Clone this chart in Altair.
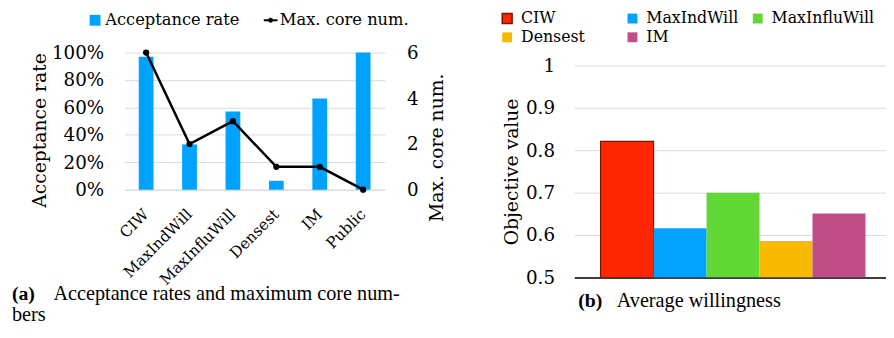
import altair as alt
import pandas as pd

# ---------------- data ----------------
methods_a = ["CIW", "MaxIndWill", "MaxInfluWill", "Densest", "IM", "Public"]
acceptance = [0.97, 0.33, 0.57, 0.065, 0.665, 1.0]
max_core = [6, 2, 3, 1, 1, 0]

methods_b = ["CIW", "MaxIndWill", "MaxInfluWill", "Densest", "IM"]
objective = [0.821, 0.616, 0.700, 0.586, 0.651]
colors_b = ["#FF2600", "#00A2FF", "#61D836", "#F8BA00", "#C04D87"]
strokes_b = ["#7A1500", "transparent", "transparent", "transparent", "transparent"]

rate_ticks = [0, 0.2, 0.4, 0.6, 0.8, 1.0]
core_ticks = [0, 2, 4, 6]
obj_ticks = [0.5, 0.6, 0.7, 0.8, 0.9, 1.0]

caption_a = ["(a)", "Acceptance rates and maximum core num-", "bers"]
caption_b = ["(b)", "Average willingness"]

SERIF = "DejaVu Serif"
CAP = "Liberation Serif"
GRID = "#D9D9D9"

df_a = pd.DataFrame({"method": methods_a, "rate": acceptance, "core": max_core})
df_a["s1"] = "Acceptance rate"
df_a["s2"] = "Max. core num."
df_b = pd.DataFrame({"method": methods_b, "value": objective})

# ---------------- left panel ----------------
x_a = alt.X(
    "method:N", sort=methods_a, title=None,
    scale=alt.Scale(paddingInner=0.66, paddingOuter=0.33),
    axis=alt.Axis(labelAngle=-45, labelAlign="right", labelBaseline="middle",
                  labelFont=SERIF, labelFontSize=15.5, labelColor="black",
                  ticks=False, tickSize=0, domain=True, domainColor=GRID, labelPadding=22,
                  grid=False),
)

bars_a = alt.Chart(df_a).mark_bar().encode(
    x=x_a,
    y=alt.Y("rate:Q", scale=alt.Scale(domain=[0, 1]),
            axis=alt.Axis(values=rate_ticks, format=".0%", title="Acceptance rate",
                          labelFont=SERIF, labelFontSize=18.5, labelColor="black",
                          titleFont=SERIF, titleFontSize=19, titleFontWeight="normal",
                          titleColor="black", titleAngle=270, titleX=-86, titleY=78.5,
                          titleAlign="center", titleBaseline="middle",
                          grid=True, gridColor=GRID, domain=False, ticks=False, tickSize=0,
                          labelPadding=21)),
    color=alt.Color("s1:N", scale=alt.Scale(domain=["Acceptance rate"], range=["#00A2FF"]),
                    legend=alt.Legend(orient="none", legendX=-38, legendY=-41, title=None,
                                      symbolType="square", symbolSize=121, symbolStrokeWidth=0,
                                      labelFont=SERIF, labelFontSize=16.5, labelColor="black",
                                      labelOffset=2)),
)

core_axis = alt.Axis(orient="right", values=core_ticks, title="Max. core num.",
                     labelFont=SERIF, labelFontSize=18.5, labelColor="black",
                     titleFont=SERIF, titleFontSize=19, titleFontWeight="normal",
                     titleColor="black", titleAngle=270, titleX=52, titleY=96,
                     titleAlign="center", titleBaseline="middle",
                     grid=False, domain=False, ticks=False, tickSize=0, labelPadding=22)

line_a = alt.Chart(df_a).mark_line(color="black", strokeWidth=2.5).encode(
    x=x_a,
    y=alt.Y("core:Q", scale=alt.Scale(domain=[0, 6]), axis=core_axis),
    stroke=alt.Stroke("s2:N", scale=alt.Scale(domain=["Max. core num."], range=["black"]),
                      legend=alt.Legend(orient="none", legendX=140, legendY=-41, title=None,
                                        symbolType="M-1,0H1M-0.22,0A0.22,0.22,0,1,0,0.22,0A0.22,0.22,0,1,0,-0.22,0Z",
                                        symbolSize=196, symbolStrokeWidth=2,
                                        symbolFillColor="black", symbolStrokeColor="black",
                                        labelFont=SERIF, labelFontSize=16.5, labelColor="black",
                                        labelOffset=1)),
)
pts_a = alt.Chart(df_a).mark_circle(color="black", size=40, opacity=1).encode(
    x=x_a,
    y=alt.Y("core:Q", scale=alt.Scale(domain=[0, 6]), axis=core_axis),
)

cap_df_a1 = pd.DataFrame({"t": [caption_a[0]]})
cap_df_a2 = pd.DataFrame({"t": [caption_a[1]]})
cap_df_a3 = pd.DataFrame({"t": [caption_a[2]]})
capa1 = alt.Chart(cap_df_a1).mark_text(font=CAP, fontSize=20, fontWeight="bold", align="left",
                                      baseline="alphabetic", color="black").encode(
    text="t:N", x=alt.value(-114), y=alt.value(251))
capa2 = alt.Chart(cap_df_a2).mark_text(font=CAP, fontSize=20.5, align="left",
                                      baseline="alphabetic", color="black").encode(
    text="t:N", x=alt.value(-72), y=alt.value(251))
capa3 = alt.Chart(cap_df_a3).mark_text(font=CAP, fontSize=20.5, align="left",
                                      baseline="alphabetic", color="black").encode(
    text="t:N", x=alt.value(-114), y=alt.value(272))

left = alt.layer(bars_a, alt.layer(line_a, pts_a), capa1, capa2, capa3).resolve_scale(
    y="independent").properties(width=264, height=139)

# ---------------- right panel ----------------
leg_b = dict(orient="none", legendX=-76, legendY=-42.5, title=None,
             columns=3, direction="horizontal", gridAlign="all",
             columnPadding=0, rowPadding=3,
             symbolType="square", symbolSize=100,
             labelFont=SERIF, labelFontSize=16, labelColor="black",
             labelOffset=6)

bars_b = alt.Chart(df_b).mark_bar(strokeWidth=1.2, clip=True).encode(
    x=alt.X("method:N", sort=methods_b, title=None,
            scale=alt.Scale(paddingInner=0, paddingOuter=0.442, align=0.562),
            axis=alt.Axis(labels=False, ticks=False, tickSize=0, domainColor="black",
                          domainWidth=1.5, grid=False)),
    y=alt.Y("value:Q", scale=alt.Scale(domain=[0.5, 1.0302326], zero=False, nice=False),
            axis=alt.Axis(values=obj_ticks, format="~g", title="Objective value",
                          labelFont=SERIF, labelFontSize=18.5, labelColor="black",
                          titleFont=SERIF, titleFontSize=19, titleFontWeight="normal",
                          titleColor="black", titleAngle=270, titleX=-64, titleY=120.5,
                          titleAlign="center", titleBaseline="middle",
                          grid=True, gridColor=GRID, domain=False, ticks=False, tickSize=0,
                          labelPadding=20)),
    y2=alt.datum(0.5),
    color=alt.Color("method:N", sort=methods_b,
                    scale=alt.Scale(domain=methods_b, range=colors_b),
                    legend=alt.Legend(**leg_b)),
    stroke=alt.Stroke("method:N", sort=methods_b,
                      scale=alt.Scale(domain=methods_b, range=strokes_b),
                      legend=alt.Legend(**leg_b)),
)

cap_df_b1 = pd.DataFrame({"t": [caption_b[0]]})
cap_df_b2 = pd.DataFrame({"t": [caption_b[1]]})
capb1 = alt.Chart(cap_df_b1).mark_text(font=CAP, fontSize=20, fontWeight="bold", align="left",
                                      baseline="alphabetic", color="black").encode(
    text="t:N", x=alt.value(4), y=alt.value(258))
capb2 = alt.Chart(cap_df_b2).mark_text(font=CAP, fontSize=20.5, align="left",
                                      baseline="alphabetic", color="black").encode(
    text="t:N", x=alt.value(43), y=alt.value(258))

right = alt.layer(bars_b, capb1, capb2).properties(width=316, height=228)

chart = alt.hconcat(left, right, spacing=54).resolve_scale(
    color="independent", stroke="independent").resolve_legend(
    color="independent", stroke="independent").properties(
    padding={"left": 4, "top": 0, "right": 0, "bottom": 0}).configure_view(stroke=None)

chart.save("out.html", embed_options={"renderer": "svg", "actions": False})
